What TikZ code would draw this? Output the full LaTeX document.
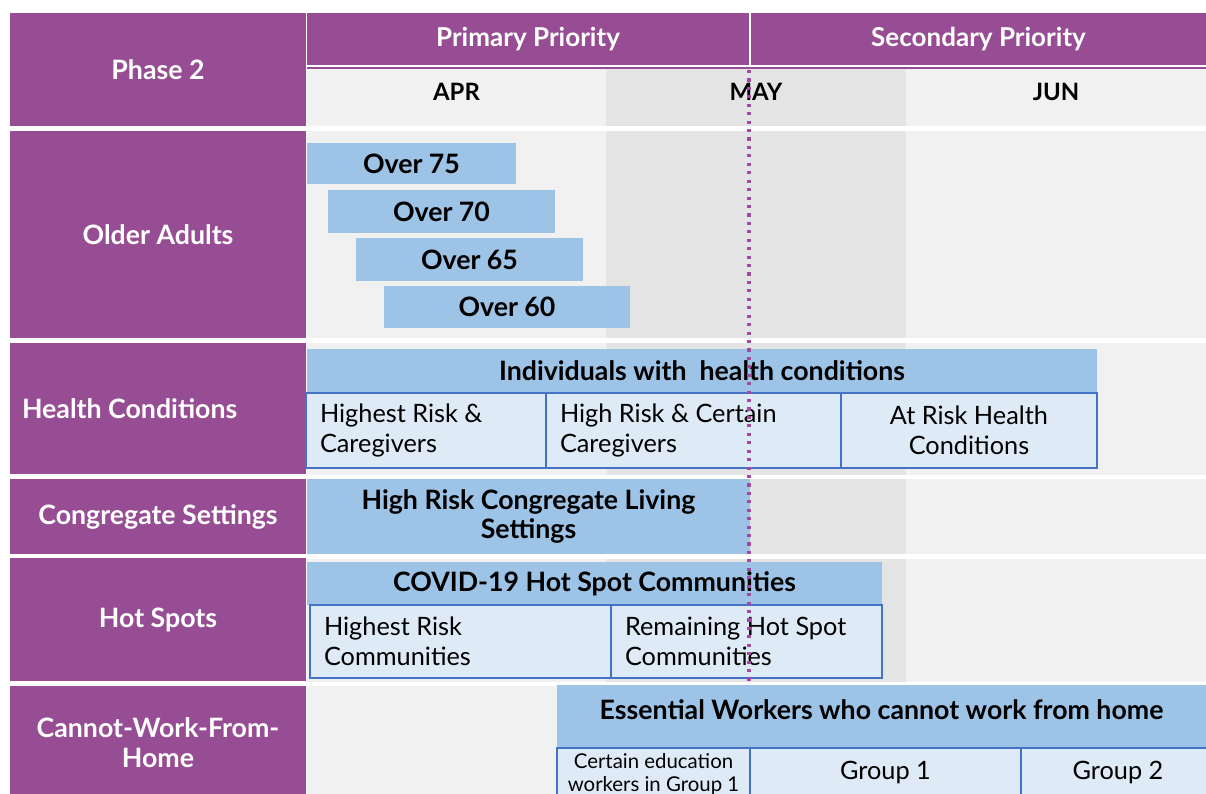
\documentclass[tikz,border=0pt]{standalone}
\usepackage{fontspec}
\setmainfont{Lato}
\usetikzlibrary{positioning}
\definecolor{phasepurple}{HTML}{974D93}
\definecolor{dotpurple}{HTML}{A04BA0}
\definecolor{aprgray}{HTML}{F1F1F1}
\definecolor{maygray}{HTML}{E4E4E4}
\definecolor{barblue}{HTML}{9DC3E6}
\definecolor{subblue}{HTML}{DEEBF7}
\definecolor{subedge}{HTML}{4472C4}
\newcommand{\pxu}{0.025cm}
\newcommand{\cell}[7][]{
  \node[minimum width={(#5-#3)*\pxu}, minimum height={(#6-#4)*\pxu}, #1]
    (#2) at ({(#3+#5)/2},{(#4+#6)/2}) {#7};
}
\newcommand{\rowgap}[1]{
  \fill[white] (0,#1) rectangle (1206,#1+4.5);
}
\tikzset{
  every node/.style = {inner sep=0pt, outer sep=0pt},
  phasecell/.style  = {fill=phasepurple, text=white, align=center,
                       font=\bfseries\fontsize{19}{21.5}\selectfont},
  headcell/.style   = {phasecell, font=\bfseries\fontsize{18.5}{21}\selectfont},
  monthcell/.style  = {font=\bfseries\fontsize{17}{20}\selectfont},
  barcell/.style    = {fill=barblue, align=center,
                       font=\bfseries\fontsize{19}{21}\selectfont},
  subcell/.style    = {fill=subblue, draw=subedge, line width=1pt,
                       font=\fontsize{18}{21.5}\selectfont},
  smallcell/.style  = {subcell, font=\fontsize{14.5}{16.5}\selectfont,
                       align=center},
  mayline/.style    = {dotpurple, line width=2.2pt,
                       dash pattern=on 2.2pt off 3.8pt}
}

\begin{document}
\begin{tikzpicture}[x=0.025cm, y=-0.025cm]
	\useasboundingbox (0,0) rectangle (1206,794);
	\fill[aprgray] (307,69) rectangle (606,800);
	\fill[maygray] (606,69) rectangle (906,800);
	\fill[aprgray] (906,69) rectangle (1206,800);
	\fill[phasepurple] (307,67) rectangle (1206,69);
	\rowgap{126.5}
	\rowgap{338.5}
	\rowgap{474.5}
	\rowgap{554}
	\rowgap{681.5}
	\cell[phasecell]{phase}{10}{13}{306}{126}{Phase 2}
	\cell[headcell]{primary}{307}{13}{749}{65}{Primary Priority}
	\cell[headcell]{secondary}{751}{13}{1206}{65}{Secondary Priority}
	\cell[monthcell]{apr}{307}{69}{606}{115}{APR}
	\cell[monthcell]{may}{606}{69}{906}{115}{MAY}
	\cell[monthcell]{jun}{906}{69}{1206}{115}{JUN}
	\cell[phasecell]{older}{10}{131}{306}{338}{Older Adults}
	\cell[phasecell, text width={272*\pxu}, align=flush left]{health}{10}{343}{306}{474}{Health Conditions}
	\cell[phasecell]{congregate}{10}{479}{306}{554}{Congregate Settings}
	\cell[phasecell]{hotspots}{10}{558}{306}{681}{Hot Spots}
	\cell[phasecell]{workhome}{10}{686}{306}{800}{Cannot-Work-From-\\Home}
	\cell[barcell]{over75}{307}{143}{516}{184}{Over 75}
	\cell[barcell]{over70}{328}{190}{555}{233}{Over 70}
	\cell[barcell]{over65}{356}{238}{583}{281}{Over 65}
	\cell[barcell]{over60}{384}{286}{630}{328}{Over 60}
	\cell[barcell]{individuals}{307}{349}{1097}{392}{Individuals with\ \ health conditions}
	\cell[subcell, text width={212*\pxu}, align=flush left]{highest}{306}{393}{546}{468}{Highest Risk \&\\Caregivers}
	\cell[subcell, text width={267*\pxu}, align=flush left]{highrisk}{546}{393}{841}{468}{High Risk \& Certain\\Caregivers}
	\cell[subcell, align=center]{atrisk}{841}{393}{1097}{468}{At Risk Health\\Conditions}
	\cell[barcell]{living}{307}{479}{750}{554}{High Risk Congregate Living\\Settings}
	\cell[barcell]{covid}{307}{562}{882}{605}{COVID-19 Hot Spot Communities}
	\cell[subcell, text width={273*\pxu}, align=flush left]{highcomm}{310}{605}{611}{678}{Highest Risk\\Communities}
	\cell[subcell, text width={243*\pxu}, align=flush left]{remaining}{611}{605}{882}{678}{Remaining Hot Spot\\Communities}
	\cell[barcell, text height=5pt, text depth=0pt]{essential}{557}{685}{1206}{747}{Essential Workers who cannot work from home}
	\cell[smallcell]{education}{557}{748}{750}{800}{Certain education\\workers in Group 1}
	\cell[subcell, text height=8pt, text depth=0pt]{group1}{750}{748}{1021}{800}{Group 1}
	\cell[subcell, text height=8pt, text depth=0pt]{group2}{1021}{748}{1215}{800}{Group 2}
	\coordinate (maytop) at (749,70);
	\coordinate (maybot) at (749,685);
	\draw[mayline] (maytop) -- (maybot);
\end{tikzpicture}
\end{document}
